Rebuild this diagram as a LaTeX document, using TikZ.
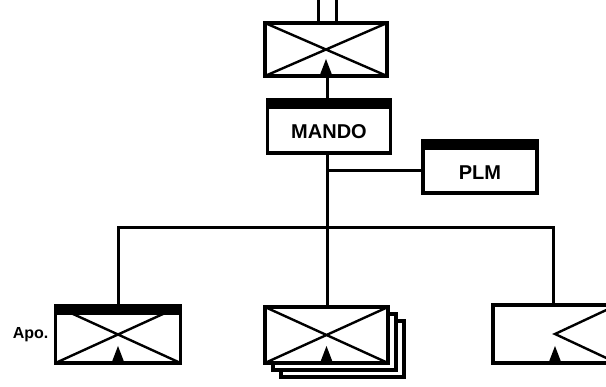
\documentclass[tikz,border=0pt]{standalone}
\usepackage{fontspec}
\setmainfont{Liberation Sans}
\usetikzlibrary{positioning}

\newcommand{\dibujoflecha}{%
  \fill[black] ([xshift=-6.5pt]path picture bounding box.south) -- ([yshift=17pt]path picture bounding box.south)
    -- ([xshift=6.5pt]path picture bounding box.south) -- cycle;}
\newcommand{\dibujocruz}{%
  \draw[line width=2.4pt] (path picture bounding box.north west) -- (path picture bounding box.south east)
    (path picture bounding box.south west) -- (path picture bounding box.north east);
  \dibujoflecha}
\newcommand{\dibujomedia}{%
  \draw[line width=2.4pt] (path picture bounding box.north east) -- (path picture bounding box.center)
    -- (path picture bounding box.south east);
  \dibujoflecha}
\newcommand{\dibujobarra}{%
  \fill[black] (path picture bounding box.north west) rectangle ([yshift=-9pt]path picture bounding box.north east);}

\begin{document}
\begin{tikzpicture}[x=1pt, y=-1pt, line width=3pt,
    caja/.style={draw, fill=white, line width=3.2pt, minimum width=123pt, minimum height=54pt, inner sep=0pt},
    cruz/.style={path picture={\dibujocruz}},
    media/.style={path picture={\dibujomedia}},
    barra/.style={path picture={\dibujobarra}},
    cruzbarra/.style={path picture={\dibujocruz\dibujobarra}},
    rotulo/.style={font=\fontsize{20}{21}\selectfont\bfseries, text height=25pt, text depth=0pt}]
    \useasboundingbox (0,0) rectangle (606,387);
    \clip (0,0) rectangle (606,387);

    % arriba
    \node[caja, cruz, minimum width=122pt, minimum height=53pt] (arriba) at (326,49.5) {};
    \coordinate (e1) at (318,0);
    \coordinate (e2) at (336,0);
    \draw (e1) -- (e1 |- arriba.north);
    \draw (e2) -- (e2 |- arriba.north);

    % mando y PLM
    \node[caja, barra, rotulo, minimum height=53pt] (mando) at (329,126.5) {MANDO};
    \node[caja, barra, rotulo, minimum width=114pt, minimum height=52pt] (plm) at (480,167) {PLM};
    \coordinate (rama) at (327,171);
    \coordinate (bus) at (327,228);

    \draw (arriba.south -| rama) -- (mando.north -| rama);
    \draw (mando.south -| rama) -- (bus);
    \draw (rama) -- (rama -| plm.west);

    % abajo
    \node[caja, cruzbarra, minimum width=125pt, minimum height=57pt] (apoyo) at (118,334.5) {};
    \node[font=\fontsize{16}{17}\selectfont\bfseries, inner sep=0pt, left=4pt of apoyo] (apo) {Apo.};

    \node[caja, minimum height=56pt] (centro3) at (342.5,349) {};
    \node[caja, minimum height=56pt] (centro2) at (334.5,342) {};
    \node[caja, cruz, minimum height=56pt] (centro) at (326.5,335) {};

    \node[caja, media, minimum width=124pt, minimum height=58pt] (derecha) at (555,334) {};

    \draw (apoyo.north) |- (bus) -| ([xshift=-2pt]derecha.north);
    \draw (bus) -- (bus |- centro.north);
\end{tikzpicture}
\end{document}
